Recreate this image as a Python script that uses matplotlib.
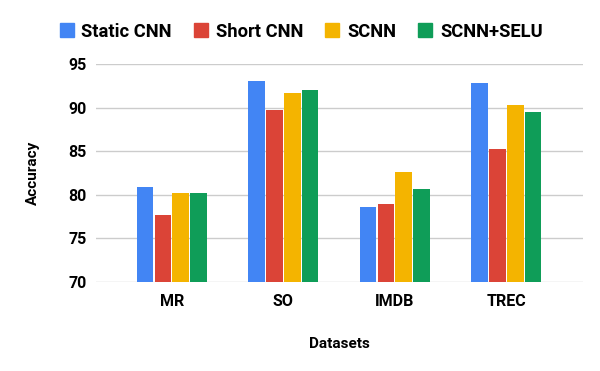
import numpy as np
import matplotlib
matplotlib.use("Agg")
import matplotlib.pyplot as plt
from matplotlib.lines import Line2D

plt.rcParams['font.family'] = ['Roboto', 'DejaVu Sans']

datasets = ["MR", "SO", "IMDB", "TREC"]
series = ["Static CNN", "Short CNN", "SCNN", "SCNN+SELU"]
static_cnn = [80.9, 93.0, 78.6, 92.8]
short_cnn = [77.7, 89.7, 78.9, 85.2]
scnn = [80.2, 91.7, 82.6, 90.3]
scnn_selu = [80.2, 92.0, 80.7, 89.5]
colors = ["#4285F4", "#DB4437", "#F4B400", "#0F9D58"]

fig = plt.figure(figsize=(6, 3.71), dpi=100)
ax = fig.add_axes([0.16, 0.24, 0.812, 0.5875])

x = np.arange(len(datasets))
slot = 0.16
for i, vals in enumerate([static_cnn, short_cnn, scnn, scnn_selu]):
    ax.bar(x + (i - 1.5) * slot, np.array(vals) - 70, bottom=70, width=0.15,
           color=colors[i], zorder=3)

ax.set_ylim(70, 95)
ax.set_xlim(-0.68, 3.69)
ax.set_yticks([70, 75, 80, 85, 90, 95])
ax.set_xticks(x)
ax.set_xticklabels(datasets, fontsize=11.5, fontweight='bold')
for t in ax.get_yticklabels():
    t.set_fontsize(11.5)
    t.set_fontweight('bold')
ax.tick_params(axis='both', length=0, pad=7)
ax.tick_params(axis='x', pad=9)
ax.grid(axis='y', color='#cccccc', linewidth=1, zorder=0)
for s in ax.spines.values():
    s.set_visible(False)

ax.set_xlabel("Datasets", fontsize=11, fontweight='bold', labelpad=20)
ax.set_ylabel("Accuracy", fontsize=11, fontweight='bold', labelpad=20)

handles = [Line2D([], [], marker='s', linestyle='', markersize=10, color=c) for c in colors]
fig.legend(handles, series, loc='center', bbox_to_anchor=(0.5, 0.915), ncol=4,
           frameon=False, prop={'weight': 'bold', 'size': 13.2}, handletextpad=0.3,
           columnspacing=1.1, handlelength=1.0)

fig.savefig("out.png", dpi=100)
